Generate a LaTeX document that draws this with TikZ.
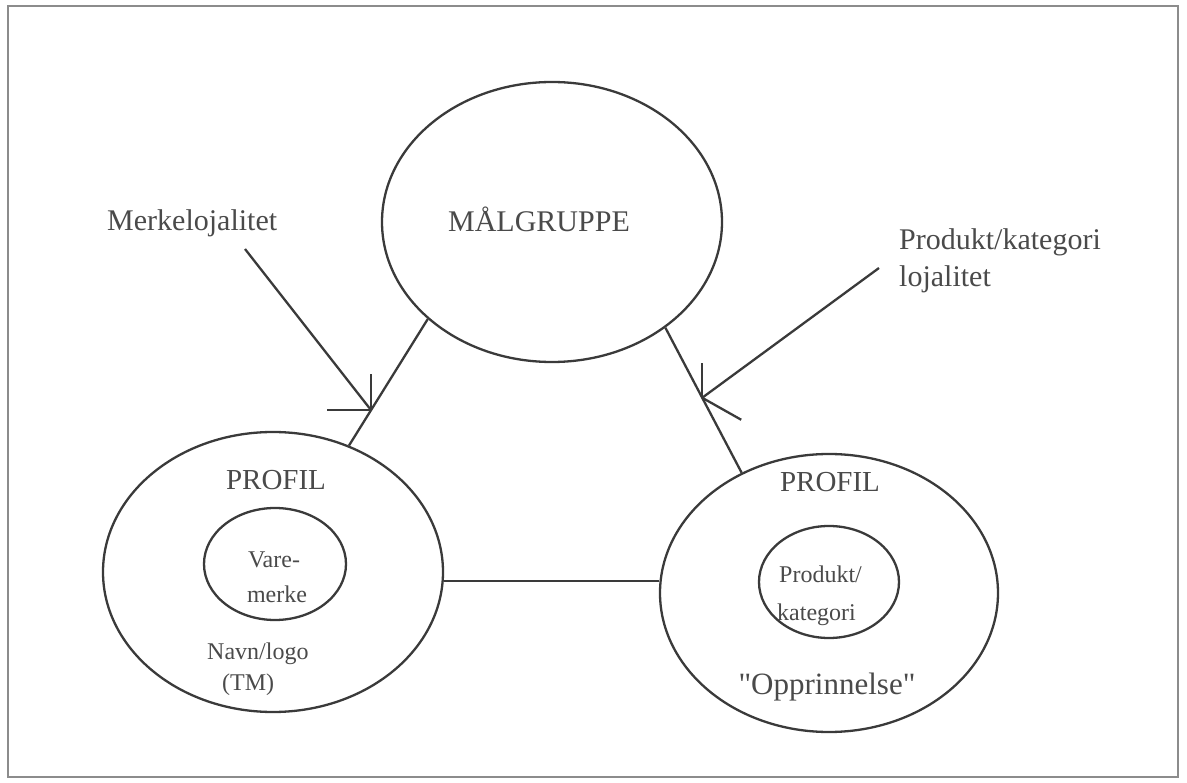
\documentclass[tikz,border=0pt]{standalone}
\usepackage{fontspec}
\setmainfont{Liberation Serif}[Ligatures=TeXOff]
\usetikzlibrary{shapes.geometric}
\definecolor{ink}{HTML}{3A3A3A}
\definecolor{txt}{HTML}{4A4A4A}
\definecolor{framec}{HTML}{8C8C8C}
\begin{document}
\begin{tikzpicture}[x=1pt,y=-1pt,
  oval/.style={draw=ink, line width=2.3pt, ellipse, inner sep=0pt},
  bigoval/.style={oval, minimum width=340pt, minimum height=280pt},
  smalloval/.style={oval, minimum width=142pt, minimum height=112pt},
  conn/.style={draw=ink, line width=2.3pt},
  lbl/.style={text=txt, inner sep=0pt, anchor=base},
  lbll/.style={text=txt, inner sep=0pt, anchor=base west},
  fbig/.style={font=\fontsize{30}{36}\selectfont},
  fmid/.style={font=\fontsize{29}{35}\selectfont},
  fsmall/.style={font=\fontsize{24}{30}\selectfont}]
\useasboundingbox (0,0) rectangle (1187,783);
\draw[framec, line width=2.5pt] (8,6) rectangle (1178,777);

% ellipses
\node[bigoval] (mal) at (552,222) {};
\node[bigoval] (lp) at (273,572) {};
\node[bigoval, minimum width=338pt, minimum height=278pt] (rp) at (829,593) {};
\node[smalloval] (li) at (275,564) {};
\node[smalloval, minimum width=140pt] (ri) at (829,582) {};

% texts
\node[lbl, fbig] (tmal) at (539,232) {MÅLGRUPPE};
\node[lbl, fmid] (tlp) at (276,490) {PROFIL};
\node[lbl, fmid] (trp) at (830,492) {PROFIL};
\node[lbl, fsmall] (tv1) at (274,567) {Vare-};
\node[lbl, fsmall] (tv2) at (277,602) {merke};
\node[lbll, fsmall] (tn1) at (207,659) {Navn/logo};
\node[lbll, fsmall] (tn2) at (222,690) {(TM)};
\node[lbll, fsmall] (tp1) at (779,583) {Produkt/};
\node[lbll, fsmall] (tp2) at (777,620) {kategori};
\node[lbl, font=\fontsize{31}{37}\selectfont] (to) at (827,694) {"Opprinnelse"};
\node[lbll, fbig] (tml) at (107,231) {Merkelojalitet};
\node[lbll, fbig] (tpk1) at (899,250) {Produkt/kategori};
\node[lbll, fbig] (tpk2) at (899,287) {lojalitet};

% connectors
\draw[conn] (mal.218) -- (lp.59) coordinate[pos=0.72] (tipL);
\draw[conn] (mal.317) -- (rp.126) coordinate[pos=0.483] (tipR);
\draw[conn] (lp.-3.4) -- (lp.-3.4 -| rp.west);

% loyalty arrows
\coordinate (sL) at (245,249);
\coordinate (sR) at (879,268);
\draw[conn] (sL) -- (tipL);
\draw[conn] (tipL) -- ++(-44,0);
\draw[conn] (tipL) -- ++(0,-36);
\draw[conn] (sR) -- (tipR);
\draw[conn] (tipR) -- ++(0,-35);
\draw[conn] (tipR) -- ++(39,22);
\end{tikzpicture}
\end{document}
